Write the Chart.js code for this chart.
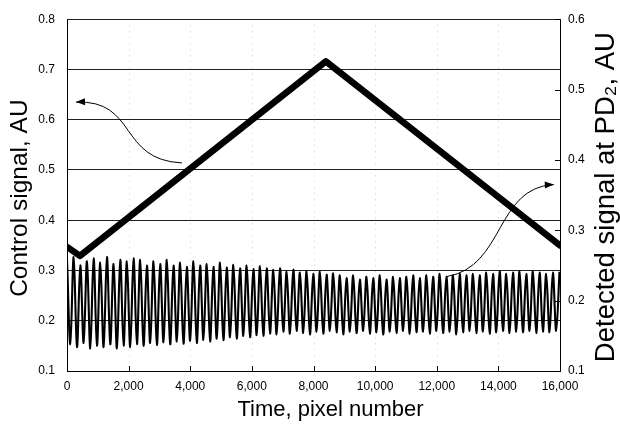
<!DOCTYPE html>
<html><head><meta charset="utf-8">
<script src="https://cdn.jsdelivr.net/npm/chart.js@4"></script>
<style>html,body{margin:0;padding:0;background:#fff}canvas{display:block}</style>
</head><body>
<canvas id="c" width="620" height="433"></canvas>
<script>
// ---- data ----
const xTicks = [0, 2000, 4000, 6000, 8000, 10000, 12000, 14000, 16000];
const leftTicks = [0.1, 0.2, 0.3, 0.4, 0.5, 0.6, 0.7, 0.8];
const rightTicks = [0.1, 0.2, 0.3, 0.4, 0.5, 0.6];
const xTitle = 'Time, pixel number';
const leftTitle = 'Control signal, AU';
const rightTitle = 'Detected signal at PD\u2082, AU';

// control signal (left axis)
const controlX = [0, 420, 8400, 16000];
const controlY = [0.347, 0.329, 0.716, 0.350];

// detected signal (right axis): one peak and one trough per cycle
const oscPeriod = 216;
const oscPeaks = [
  0.258,0.262,0.250,0.256,0.260,0.254,0.262,0.252,0.258,0.256,
  0.260,0.258,0.250,0.256,0.252,0.258,0.250,0.254,0.248,0.256,
  0.250,0.252,0.248,0.254,0.247,0.251,0.246,0.250,0.245,0.249,
  0.246,0.244,0.246,0.241,0.244,0.240,0.242,0.238,0.241,0.237,
  0.239,0.236,0.232,0.236,0.230,0.234,0.232,0.236,0.230,0.234,
  0.232,0.234,0.236,0.232,0.236,0.234,0.238,0.234,0.236,0.238,
  0.236,0.238,0.236,0.240,0.238,0.242,0.238,0.240,0.242,0.238,
  0.242,0.240,0.238,0.240,0.241
];
const oscTroughs = [
  0.138,0.134,0.140,0.132,0.136,0.134,0.138,0.132,0.136,0.134,
  0.138,0.136,0.140,0.137,0.141,0.138,0.142,0.139,0.143,0.140,
  0.144,0.142,0.146,0.144,0.148,0.146,0.150,0.148,0.151,0.150,
  0.153,0.152,0.156,0.153,0.157,0.154,0.152,0.156,0.153,0.157,
  0.155,0.152,0.156,0.154,0.157,0.153,0.155,0.152,0.156,0.154,
  0.157,0.153,0.155,0.156,0.153,0.157,0.154,0.156,0.152,0.155,
  0.157,0.154,0.156,0.153,0.155,0.157,0.154,0.156,0.155,0.157,
  0.154,0.156,0.155,0.157
];

// annotation arrows (data coordinates on x / left axis)
const leftArrow = [[3732,0.514],[1650,0.520],[2300,0.640],[292,0.635]];
const rightArrow = [[12333,0.288],[14215,0.308],[13891,0.465],[15800,0.471]];

// ---- build series ----
const controlData = controlX.map((x,i)=>({x:x, y:controlY[i]}));
const oscData = [];
for (let i=0;i<oscPeaks.length;i++){
  oscData.push({x:i*oscPeriod, y:oscPeaks[i]});
  if (i<oscTroughs.length) oscData.push({x:i*oscPeriod+oscPeriod/2, y:oscTroughs[i]});
}

const FONT = "'Liberation Sans', Arial, Helvetica, sans-serif";

const decor = {
  id:'decor',
  beforeDatasetsDraw(chart){
    const ctx = chart.ctx, xs = chart.scales.x, a = chart.chartArea;
    ctx.save();
    ctx.strokeStyle='rgba(0,0,0,0.18)'; ctx.lineWidth=1; ctx.setLineDash([1,5]);
    xTicks.slice(1,-1).forEach(v=>{
      const px=Math.round(xs.getPixelForValue(v))+0.5;
      ctx.beginPath(); ctx.moveTo(px,a.top); ctx.lineTo(px,a.bottom); ctx.stroke();
    });
    ctx.restore();
  },
  afterDatasetsDraw(chart){
    const ctx = chart.ctx, xs = chart.scales.x, ya = chart.scales.y, yr = chart.scales.y2, a = chart.chartArea;
    ctx.save();
    ctx.strokeStyle='#000'; ctx.lineWidth=1;
    xTicks.forEach(v=>{
      const px=Math.round(xs.getPixelForValue(v))+0.5;
      ctx.beginPath(); ctx.moveTo(px,a.bottom); ctx.lineTo(px,a.bottom-5); ctx.stroke();
    });
    rightTicks.forEach(v=>{
      const py=Math.round(yr.getPixelForValue(v))+0.5;
      ctx.beginPath(); ctx.moveTo(a.right,py); ctx.lineTo(a.right-5,py); ctx.stroke();
    });
    function arrow(pts){
      const p = pts.map(q=>[xs.getPixelForValue(q[0]), ya.getPixelForValue(q[1])]);
      ctx.strokeStyle='#000'; ctx.lineWidth=1; ctx.setLineDash([]);
      ctx.beginPath(); ctx.moveTo(p[0][0],p[0][1]);
      ctx.bezierCurveTo(p[1][0],p[1][1],p[2][0],p[2][1],p[3][0],p[3][1]);
      ctx.stroke();
      const ang = Math.atan2(p[3][1]-p[2][1], p[3][0]-p[2][0]);
      const L=9, W=3.5, tx=p[3][0], ty=p[3][1];
      ctx.fillStyle='#000';
      ctx.beginPath();
      ctx.moveTo(tx,ty);
      ctx.lineTo(tx-L*Math.cos(ang)+W*Math.sin(ang), ty-L*Math.sin(ang)-W*Math.cos(ang));
      ctx.lineTo(tx-L*Math.cos(ang)-W*Math.sin(ang), ty-L*Math.sin(ang)+W*Math.cos(ang));
      ctx.closePath(); ctx.fill();
    }
    arrow(leftArrow);
    arrow(rightArrow);
    ctx.restore();
  },
  afterDraw(chart){
    const ctx = chart.ctx, a = chart.chartArea;
    ctx.save();
    ctx.fillStyle='#000'; ctx.textAlign='center'; ctx.textBaseline='middle';
    ctx.font = "22px " + FONT;
    ctx.fillText(xTitle, (a.left+a.right)/2 + 17, 410);
    ctx.font = "24.5px " + FONT;
    ctx.save(); ctx.translate(20, (a.top+a.bottom)/2 + 3); ctx.rotate(-Math.PI/2);
    ctx.fillText(leftTitle, 0, 0); ctx.restore();
    ctx.font = "27.5px " + FONT;
    ctx.save(); ctx.translate(606, (a.top+a.bottom)/2 + 2); ctx.rotate(-Math.PI/2);
    ctx.fillText(rightTitle, 0, 0); ctx.restore();
    ctx.restore();
  }
};

new Chart(document.getElementById('c'), {
  type:'line',
  data:{datasets:[
    {label:'Detected', data:oscData, yAxisID:'y2', borderColor:'#000', borderWidth:2.1,
     pointRadius:0, tension:0.35, fill:false},
    {label:'Control', data:controlData, yAxisID:'y', borderColor:'#000', borderWidth:6.5,
     pointRadius:0, tension:0, fill:false, borderCapStyle:'round', borderJoinStyle:'round'}
  ]},
  options:{
    responsive:false, animation:false, devicePixelRatio:1,
    layout:{padding:{top:14,left:0,right:0,bottom:0}},
    plugins:{legend:{display:false}, tooltip:{enabled:false}},
    scales:{
      x:{type:'linear', min:0, max:16000,
        afterBuildTicks:s=>{s.ticks = xTicks.map(v=>({value:v}));},
        afterFit:s=>{s.height=62;},
        grid:{display:false, drawTicks:false},
        border:{display:true, color:'#000', width:1},
        ticks:{padding:8, color:'#000', font:{family:FONT,size:12},
          callback:v=>v.toLocaleString('en-US')},
        title:{display:false}
      },
      y:{type:'linear', position:'left', min:0.1, max:0.8,
        afterBuildTicks:s=>{s.ticks = leftTicks.map(v=>({value:v}));},
        afterFit:s=>{s.width=67;},
        grid:{color:'#222', lineWidth:1, drawTicks:false},
        border:{display:true, color:'#000', width:1},
        ticks:{padding:12, color:'#000', font:{family:FONT,size:12},
          callback:v=>v.toFixed(1)},
        title:{display:false}
      },
      y2:{type:'linear', position:'right', min:0.1, max:0.6,
        afterBuildTicks:s=>{s.ticks = rightTicks.map(v=>({value:v}));},
        afterFit:s=>{s.width=60;},
        grid:{display:false, drawTicks:false},
        border:{display:true, color:'#000', width:1},
        ticks:{padding:8, color:'#000', font:{family:FONT,size:12},
          callback:v=>v.toFixed(1)},
        title:{display:false}
      }
    }
  },
  plugins:[decor]
});
</script>
</body></html>
